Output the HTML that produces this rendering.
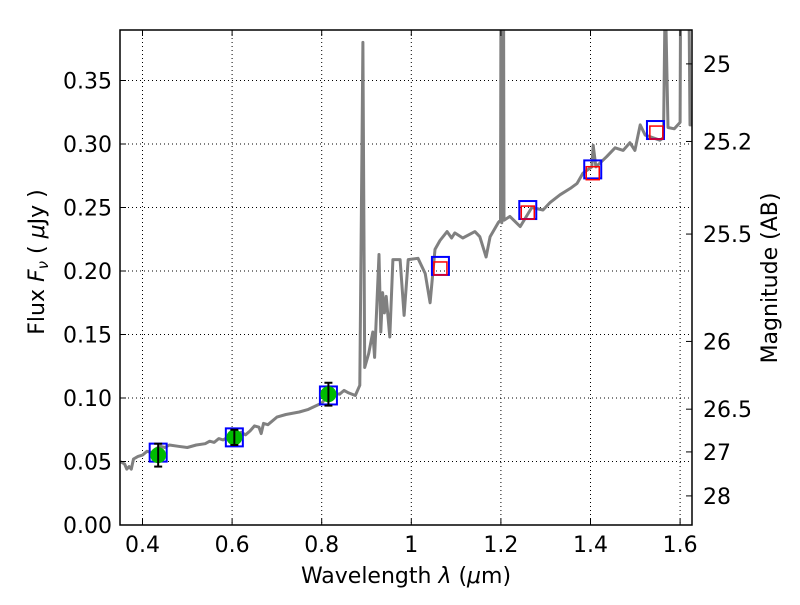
<!DOCTYPE html>
<html><head><meta charset="utf-8"><style>
body{margin:0;background:#fff;width:800px;height:600px;overflow:hidden}
svg text{font-family:"DejaVu Sans","Liberation Sans",sans-serif;fill:#000}
</style></head><body>
<svg id="c" width="800" height="600" xmlns="http://www.w3.org/2000/svg"></svg>
<script>
const xTicks=[0.4,0.6,0.8,1.0,1.2,1.4,1.6];
const xTickLabels=["0.4","0.6","0.8","1","1.2","1.4","1.6"];
const yTicks=[0,0.05,0.1,0.15,0.2,0.25,0.3,0.35];
const yTickLabels=["0.00","0.05","0.10","0.15","0.20","0.25","0.30","0.35"];
const magTicks=[25,25.2,25.5,26,26.5,27,28];
const magTickLabels=["25","25.2","25.5","26","26.5","27","28"];
const specWave=[0.35,0.36,0.365,0.37,0.375,0.38,0.39,0.40,0.41,0.42,0.43,0.44,0.45,0.46,0.48,0.50,0.52,0.54,0.55,0.56,0.57,0.58,0.59,0.60,0.61,0.62,0.63,0.64,0.65,0.66,0.665,0.67,0.68,0.70,0.72,0.75,0.77,0.80,0.82,0.84,0.85,0.86,0.875,0.885,0.890,0.892,0.896,0.905,0.914,0.918,0.928,0.932,0.936,0.940,0.944,0.952,0.959,0.975,0.984,0.993,1.015,1.031,1.042,1.053,1.064,1.080,1.090,1.097,1.115,1.142,1.153,1.167,1.176,1.194,1.199,1.200,1.202,1.205,1.206,1.207,1.220,1.243,1.269,1.294,1.310,1.332,1.355,1.370,1.383,1.403,1.406,1.412,1.436,1.455,1.473,1.488,1.499,1.511,1.522,1.555,1.563,1.566,1.568,1.573,1.587,1.600,1.601,1.603,1.620,1.622,1.627];
const specFlux=[0.050,0.048,0.044,0.046,0.044,0.052,0.054,0.055,0.058,0.057,0.060,0.062,0.061,0.063,0.062,0.061,0.063,0.064,0.066,0.065,0.068,0.067,0.069,0.070,0.069,0.073,0.071,0.074,0.078,0.077,0.072,0.080,0.079,0.085,0.087,0.089,0.091,0.096,0.104,0.103,0.106,0.104,0.102,0.110,0.300,0.380,0.124,0.135,0.152,0.132,0.213,0.152,0.183,0.167,0.180,0.148,0.209,0.209,0.165,0.209,0.210,0.198,0.175,0.217,0.224,0.231,0.226,0.230,0.226,0.231,0.227,0.211,0.227,0.238,0.240,0.40,0.238,0.40,0.40,0.240,0.243,0.235,0.250,0.248,0.254,0.260,0.265,0.269,0.277,0.282,0.299,0.282,0.290,0.297,0.295,0.301,0.295,0.315,0.307,0.303,0.305,0.40,0.40,0.313,0.312,0.317,0.40,0.40,0.40,0.315,0.315];
const photWave=[0.435,0.605,0.815];
const photFlux=[0.055,0.069,0.103];
const photErr=[0.009,0.006,0.009];
const blueWave=[0.435,0.605,0.815,1.065,1.26,1.405,1.545];
const blueFlux=[0.057,0.069,0.102,0.204,0.248,0.280,0.311];
const redWave=[1.065,1.26,1.405,1.547];
const redFlux=[0.202,0.246,0.277,0.309];

const L=120,R=692,T=30,B=525;
const X=v=>142.5+(v-0.4)*448;
const Y=v=>B-v*1270;
const magY=m=>Y(Math.pow(10,(23.9-m)/2.5));
const svg=document.getElementById('c');
const NS="http://www.w3.org/2000/svg";
function mk(tag,attrs,parent){const e=document.createElementNS(NS,tag);for(const k in attrs)e.setAttribute(k,attrs[k]);(parent||svg).appendChild(e);return e;}
const cp=mk('clipPath',{id:'clip'});mk('rect',{x:L,y:T,width:R-L,height:B-T},cp);
const grid=mk('g',{stroke:'#000','stroke-width':1,'stroke-dasharray':'1,3'});


xTicks.forEach(v=>mk('line',{x1:X(v),x2:X(v),y1:T,y2:B},grid));
yTicks.forEach(v=>mk('line',{x1:L,x2:R,y1:Y(v),y2:Y(v)},grid));
let d='';specWave.forEach((w,i)=>{d+=(i?'L':'M')+X(w).toFixed(1)+','+Y(specFlux[i]).toFixed(1);});
const sp=mk('path',{d:d,fill:'none',stroke:'#808080','stroke-width':3,'clip-path':'url(#clip)','stroke-linejoin':'round'});


blueWave.forEach((w,i)=>{const r=mk('rect',{x:X(w)-8.5,y:Y(blueFlux[i])-9,width:17,height:18,fill:'none',stroke:'#0000ff','stroke-width':2});

});
redWave.forEach((w,i)=>{const r=mk('rect',{x:X(w)-6.5,y:Y(redFlux[i])-6.5,width:13,height:13,fill:'none',stroke:'#ff0000','stroke-width':1.5});

});
photWave.forEach((w,i)=>{const x=X(w),y=Y(photFlux[i]);
const c=mk('circle',{cx:x,cy:y,r:8,fill:'#00bb00'});


const g=mk('g',{stroke:'#000','stroke-width':2});


const y1=Y(photFlux[i]+photErr[i]),y2=Y(photFlux[i]-photErr[i]);
mk('line',{x1:x,x2:x,y1:y1,y2:y2},g);mk('line',{x1:x-4,x2:x+4,y1:y1,y2:y1},g);mk('line',{x1:x-4,x2:x+4,y1:y2,y2:y2},g);});
const fr=mk('rect',{x:L,y:T,width:R-L,height:B-T,fill:'none',stroke:'#000','stroke-width':1.5});


const tk=mk('g',{stroke:'#000','stroke-width':1});
xTicks.forEach((v,i)=>{mk('line',{x1:X(v),x2:X(v),y1:B,y2:B-6},tk);mk('line',{x1:X(v),x2:X(v),y1:T,y2:T+6},tk);
const t=mk('text',{x:X(v),y:B+27,'font-size':22,'text-anchor':'middle'});t.textContent=xTickLabels[i];

});
yTicks.forEach((v,i)=>{mk('line',{x1:L,x2:L+6,y1:Y(v),y2:Y(v)},tk);
const t=mk('text',{x:112,y:Y(v)+8,'font-size':22,'text-anchor':'end'});t.textContent=yTickLabels[i];

});
magTicks.forEach((m,i)=>{const y=magY(m);mk('line',{x1:R,x2:R-6,y1:y,y2:y},tk);
const t=mk('text',{x:703,y:y+8,'font-size':22});t.textContent=magTickLabels[i];

});
const xl=mk('text',{x:406,y:583,'font-size':22,'text-anchor':'middle'});xl.innerHTML='Wavelength  <tspan font-style="italic">λ</tspan> (<tspan font-style="italic">μ</tspan>m)';


const yl=mk('text',{x:0,y:0,'font-size':22,'text-anchor':'middle',transform:'translate(44,262) rotate(-90)'});yl.innerHTML='Flux  <tspan font-style="italic">F</tspan><tspan font-style="italic" font-size="15" dy="4">ν</tspan><tspan dy="-4">  ( </tspan><tspan font-style="italic">μ</tspan>Jy )';


const rl=mk('text',{x:0,y:0,'font-size':22,'text-anchor':'middle',transform:'translate(777,278) rotate(-90)'});rl.textContent='Magnitude (AB)';


</script>
</body></html>
